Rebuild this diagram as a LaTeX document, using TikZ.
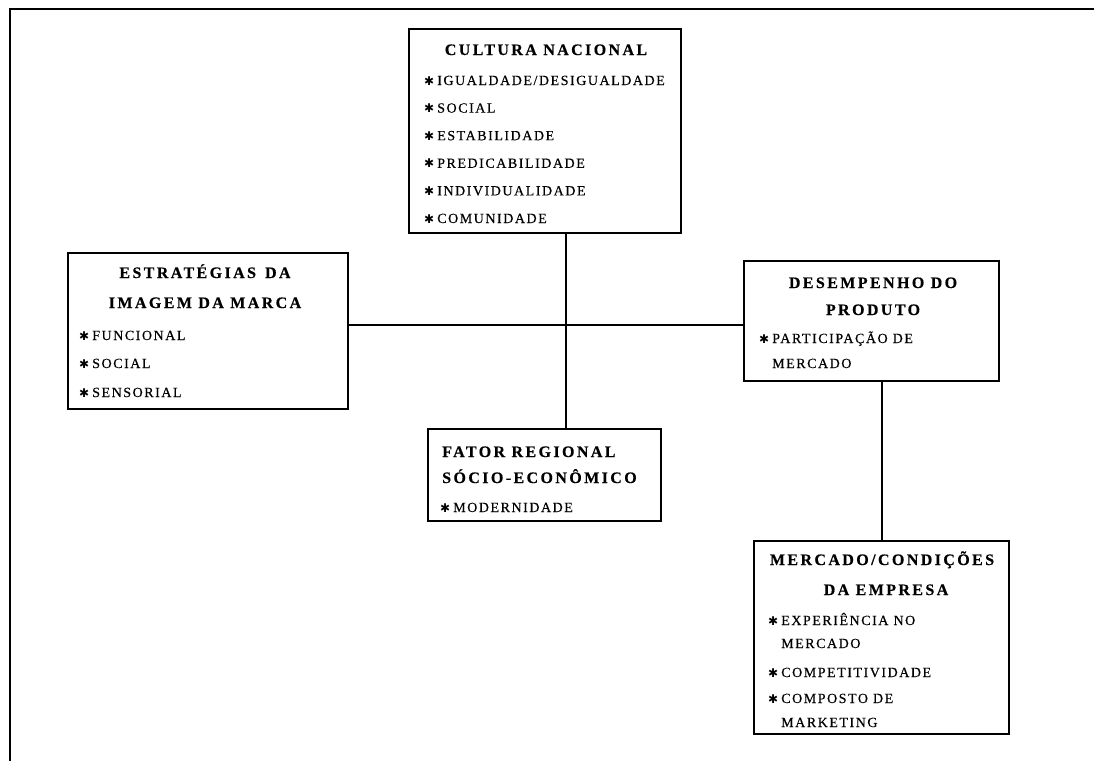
\documentclass[tikz,border=0pt]{standalone}
\usepackage{fontspec}
\setmainfont{Liberation Serif}
\newfontfamily\headfont[LetterSpace=15,FakeBold=0.4]{Liberation Serif}
\newfontfamily\itemfont[LetterSpace=11,FakeBold=0.4]{Liberation Serif}
\newfontfamily\starfont{DejaVu Sans}
\newcommand\astmark{{\starfont\fontsize{12}{12}\selectfont ✱}\hspace{3pt}}

\tikzset{
  box/.style={draw, line width=1.6pt, inner sep=0pt, anchor=north west},
  head/.style={font=\headfont\bfseries\fontsize{16}{16}\selectfont, inner sep=0pt, anchor=base},
  headl/.style={head, anchor=base west},
  entry/.style={font=\itemfont\fontsize{14}{14}\selectfont, inner sep=0pt, anchor=base west},
  link/.style={line width=2pt},
  frame/.style={line width=2.6pt}
}

\begin{document}
\begin{tikzpicture}[x=1pt, y=-1pt]
\useasboundingbox (0,0) rectangle (1094,761);

% page frame (top and left rules)
\coordinate (fTL) at (10,9);
\coordinate (fBL) at (10,761);
\coordinate (fTR) at (1094,9);
\draw[frame] (fBL) -- (fTL) -- (fTR);

% boxes
\node[box, minimum width=272pt, minimum height=204pt] (cult) at (408,28) {};
\node[box, minimum width=280pt, minimum height=156pt] (estr) at (67,252) {};
\node[box, minimum width=255pt, minimum height=120pt] (desm) at (743,260) {};
\node[box, minimum width=233pt, minimum height=92pt]  (fator) at (427,428) {};
\node[box, minimum width=255pt, minimum height=193pt] (merc) at (753,540) {};

% Cultura nacional
\node[head] (cultT) at (546,55) {CULTURA NACIONAL};
\node[entry] (cult1) at (424,85)    {\astmark IGUALDADE/DESIGUALDADE};
\node[entry] (cult2) at (424,112.6) {\astmark SOCIAL};
\node[entry] (cult3) at (424,140.2) {\astmark ESTABILIDADE};
\node[entry] (cult4) at (424,167.8) {\astmark PREDICABILIDADE};
\node[entry] (cult5) at (424,195.4) {\astmark INDIVIDUALIDADE};
\node[entry] (cult6) at (424,223)   {\astmark COMUNIDADE};

% Estratégias da imagem da marca
\node[head] (estrT1) at (205,278) {ESTRATÉGIAS\, DA};
\node[head] (estrT2) at (205,308) {IMAGEM DA MARCA};
\node[entry] (estr1) at (79,340) {\astmark FUNCIONAL};
\node[entry] (estr2) at (79,368) {\astmark SOCIAL};
\node[entry] (estr3) at (79,397) {\astmark SENSORIAL};

% Desempenho do produto
\node[head] (desmT1) at (873,288) {DESEMPENHO DO};
\node[head] (desmT2) at (873,315) {PRODUTO};
\node[entry] (desm1) at (759,343) {\astmark PARTICIPAÇÃO DE};
\node[entry] (desm2) at (772,368) {MERCADO};

% Fator regional sócio-econômico
\node[headl] (fatorT1) at (442,457) {FATOR REGIONAL};
\node[headl] (fatorT2) at (442,483) {SÓCIO-ECONÔMICO};
\node[entry] (fator1) at (440,512) {\astmark MODERNIDADE};

% Mercado / condições da empresa
\node[head] (mercT1) at (882,565) {MERCADO/CONDIÇÕES};
\node[head] (mercT2) at (886,595) {DA EMPRESA};
\node[entry] (merc1) at (768,625) {\astmark EXPERIÊNCIA NO};
\node[entry] (merc2) at (781,648) {MERCADO};
\node[entry] (merc3) at (768,677) {\astmark COMPETITIVIDADE};
\node[entry] (merc4) at (768,703) {\astmark COMPOSTO DE};
\node[entry] (merc5) at (781,727) {MARKETING};

% connectors
\coordinate (hy) at (0,325);
\coordinate (vx) at (566,0);
\coordinate (vx2) at (882,0);
\draw[link] (estr.east |- hy) -- (desm.west |- hy);
\draw[link] (cult.south -| vx) -- (fator.north -| vx);
\draw[link] (desm.south -| vx2) -- (merc.north -| vx2);
\end{tikzpicture}
\end{document}
